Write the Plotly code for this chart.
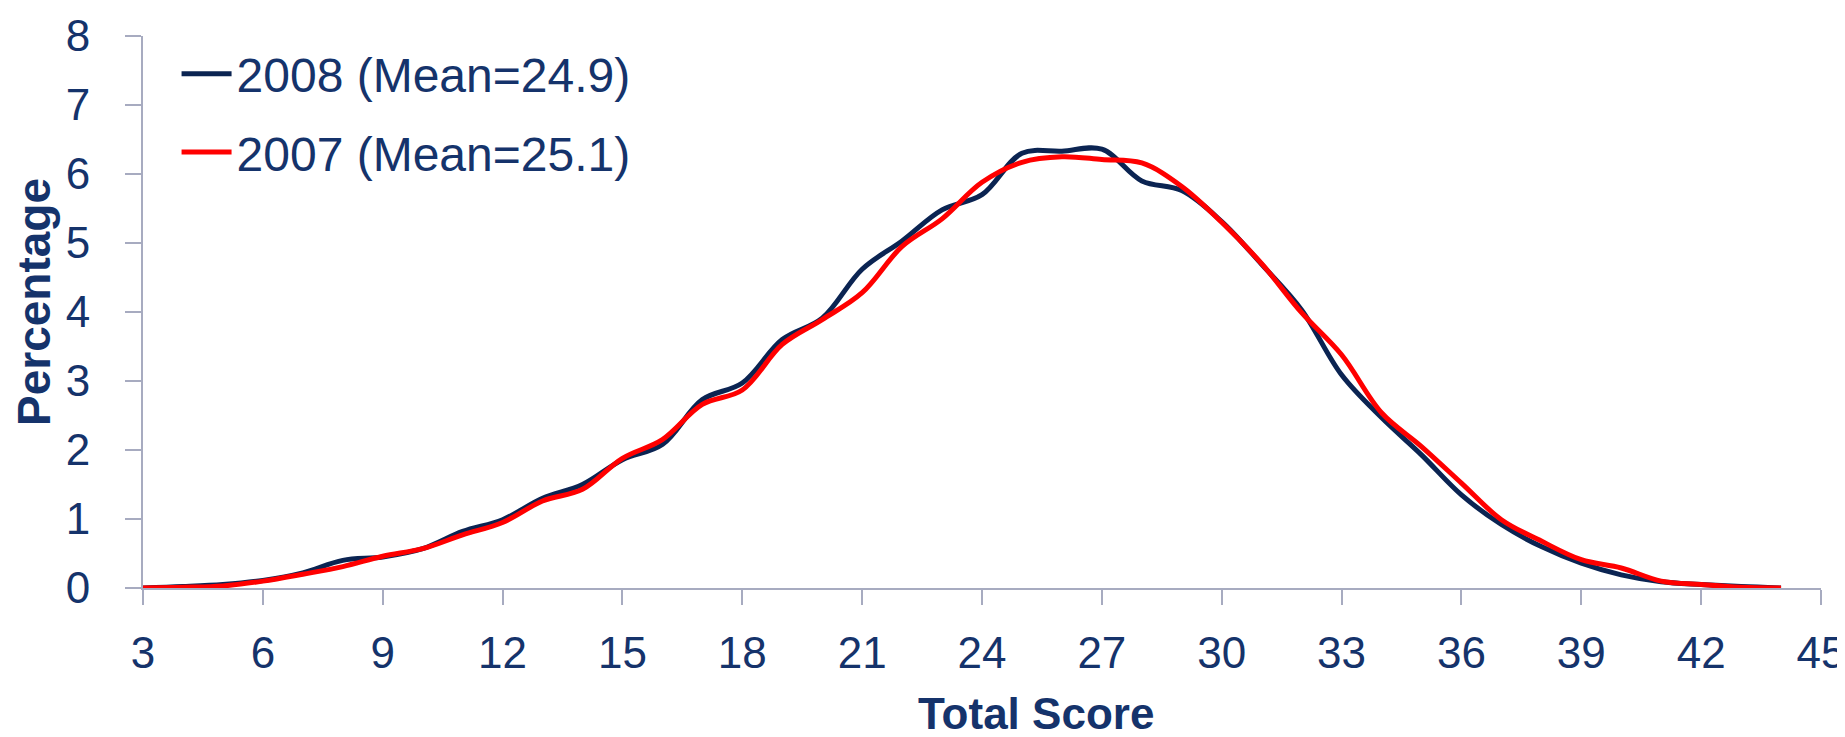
import plotly.graph_objects as go

scores = list(range(3, 45))
pct_2008 = [0, 0.02, 0.05, 0.11, 0.22, 0.40, 0.45, 0.57, 0.82, 0.99, 1.30, 1.50, 1.86, 2.08,
            2.73, 2.97, 3.60, 3.91, 4.62, 5.03, 5.48, 5.70, 6.30, 6.33, 6.36, 5.90, 5.76, 5.31,
            4.69, 4.03, 3.09, 2.47, 1.93, 1.35, 0.92, 0.60, 0.36, 0.19, 0.09, 0.05, 0.02, 0.0]
pct_2007 = [0, 0.01, 0.03, 0.10, 0.20, 0.31, 0.46, 0.57, 0.77, 0.95, 1.26, 1.43, 1.88, 2.15,
            2.66, 2.87, 3.53, 3.89, 4.28, 4.95, 5.35, 5.88, 6.17, 6.25, 6.21, 6.16, 5.82, 5.30,
            4.70, 3.99, 3.38, 2.54, 2.05, 1.52, 0.99, 0.68, 0.41, 0.29, 0.10, 0.05, 0.01, 0.0]
names = ["2008 (Mean=24.9)", "2007 (Mean=25.1)"]
x_ticks = list(range(3, 46, 3))
y_ticks = list(range(0, 9))

TEXT = "#15336B"
AXIS = "#A7ABC0"
FONT = "Liberation Sans, Arial, sans-serif"

fig = go.Figure()
fig.add_trace(go.Scatter(x=scores, y=pct_2008, mode="lines", name=names[0], legendgroup="a",
                         line=dict(color="#0B2452", width=5, shape="spline", smoothing=1.0)))
fig.add_trace(go.Scatter(x=scores, y=pct_2007, mode="lines", name=names[1], legendgroup="b",
                         line=dict(color="#FF0000", width=5, shape="spline", smoothing=1.0)))

fig.update_layout(
    width=1845, height=737,
    margin=dict(l=135, r=32, t=28, b=157, autoexpand=False),
    paper_bgcolor="white", plot_bgcolor="white",
    font=dict(family=FONT, color=TEXT, size=44),
    showlegend=True,
    legend=dict(x=0.02, y=1.0, xanchor="left", yanchor="top",
                font=dict(size=48, color=TEXT, family=FONT),
                bgcolor="rgba(0,0,0,0)", itemwidth=50, tracegroupgap=13,
                traceorder="grouped"),
    xaxis=dict(range=[3, 45], tickvals=x_ticks, showline=True, linecolor=AXIS, linewidth=2,
               ticks="outside", ticklen=15, tickwidth=2, tickcolor=AXIS, showgrid=False,
               zeroline=False, automargin=False, tickfont=dict(size=44, color=TEXT),
               ticklabelstandoff=10),
    yaxis=dict(range=[0, 8], tickvals=y_ticks, showline=True, linecolor=AXIS, linewidth=2,
               ticks="outside", ticklen=16, tickwidth=2, tickcolor=AXIS, showgrid=False,
               zeroline=False, automargin=False, tickfont=dict(size=44, color=TEXT),
               ticklabelstandoff=26),
    annotations=[
        dict(text="<b>Total Score</b>", xref="paper", yref="paper", x=(1028 - 135) / 1678,
             y=-(705 - 580) / 552, xanchor="center", yanchor="middle", showarrow=False,
             font=dict(size=44, color=TEXT, family=FONT)),
        dict(text="<b>Percentage</b>", xref="paper", yref="paper", x=(26 - 135) / 1678,
             y=(580 - 294) / 552, xanchor="center", yanchor="middle", textangle=-90,
             showarrow=False, font=dict(size=46, color=TEXT, family=FONT)),
    ],
)

fig.write_html("out.html")
